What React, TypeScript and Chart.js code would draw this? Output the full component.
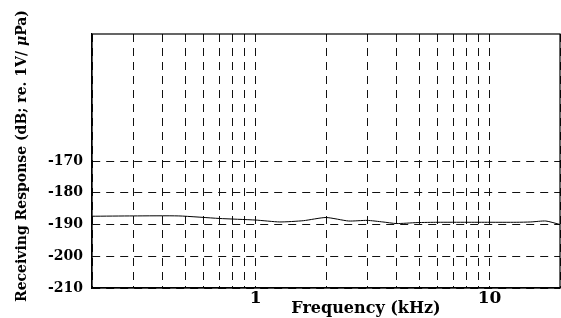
import React, { useEffect, useRef } from "react";
import { Chart, registerables } from "chart.js";

Chart.register(...registerables);

const frequenciesKHz = [0.2, 0.3, 0.47, 0.7, 1.0, 1.27, 1.6, 2.0, 2.5, 3.0, 3.5, 4.0, 4.9, 6.0, 8.0, 10.0, 13.0, 15.0, 17.4, 20.0];
const responseDb = [-187.4, -187.3, -187.3, -188.1, -188.6, -189.2, -188.8, -187.8, -188.9, -188.7, -189.2, -189.7, -189.4, -189.3, -189.3, -189.3, -189.3, -189.2, -188.9, -190.0];

const xTickValues = [0.2, 0.3, 0.4, 0.5, 0.6, 0.7, 0.8, 0.9, 1, 2, 3, 4, 5, 6, 7, 8, 9, 10, 20];
const xLabeledTicks = [1, 10];
const yTickValues = [-210, -200, -190, -180, -170];

const xTitle = "Frequency (kHz)";
const yTitleParts = [
  { text: "Receiving Response (dB; re. 1V/ ", italic: false },
  { text: "μ", italic: true },
  { text: "Pa)", italic: false },
];

const FONT = "'DejaVu Serif', 'Liberation Serif', serif";

export default function App() {
  const ref = useRef<HTMLCanvasElement | null>(null);

  useEffect(() => {
    document.body.style.margin = "0";
    const canvas = ref.current;
    if (!canvas) return;

    const titlesPlugin = {
      id: "titles",
      afterDraw(chart: any) {
        const { ctx, chartArea } = chart;
        ctx.save();
        ctx.strokeStyle = "#000";
        ctx.lineWidth = 1.2;
        ctx.setLineDash([]);
        ctx.strokeRect(chartArea.left, chartArea.top, chartArea.right - chartArea.left, chartArea.bottom - chartArea.top);
        ctx.fillStyle = "#000";
        ctx.font = `bold 16px ${FONT}`;
        ctx.textAlign = "center";
        ctx.textBaseline = "alphabetic";
        ctx.fillText(xTitle, 366, 313);
        ctx.translate(26, 156);
        ctx.rotate(-Math.PI / 2);
        let total = 0;
        const fonts = yTitleParts.map((p) => `${p.italic ? "italic " : ""}bold 14px ${FONT}`);
        yTitleParts.forEach((p, i) => {
          ctx.font = fonts[i];
          total += ctx.measureText(p.text).width;
        });
        let x = -total / 2;
        ctx.textAlign = "left";
        yTitleParts.forEach((p, i) => {
          ctx.font = fonts[i];
          ctx.fillText(p.text, x, 0);
          x += ctx.measureText(p.text).width;
        });
        ctx.restore();
      },
    };

    const chart = new Chart(canvas, {
      type: "line",
      data: {
        datasets: [
          {
            data: frequenciesKHz.map((f, i) => ({ x: f, y: responseDb[i] })),
            borderColor: "#000",
            borderWidth: 1,
            pointRadius: 0,
            tension: 0.2,
            fill: false,
          },
        ],
      },
      options: {
        animation: false,
        responsive: true,
        maintainAspectRatio: false,
        layout: { padding: { top: 34, right: 1, left: 0, bottom: 0 } },
        plugins: { legend: { display: false }, tooltip: { enabled: false } },
        scales: {
          x: {
            type: "logarithmic",
            min: 0.2,
            max: 20,
            afterBuildTicks(scale: any) {
              scale.ticks = xTickValues.map((v) => ({ value: v }));
            },
            afterFit(scale: any) {
              scale.height = 30;
            },
            grid: { color: "#111", lineWidth: 1, drawTicks: false },
            border: { display: true, color: "#000", width: 1.2, dash: [8, 6] },
            ticks: {
              autoSkip: false,
              maxRotation: 0,
              padding: 0,
              color: "#000",
              font: { family: FONT, weight: "bold", size: 17 },
              callback: (v: any) => (xLabeledTicks.includes(Number(v)) ? String(v) : ""),
            },
          },
          y: {
            type: "linear",
            min: -210,
            max: -130,
            afterBuildTicks(scale: any) {
              scale.ticks = yTickValues.map((v) => ({ value: v }));
            },
            afterFit(scale: any) {
              scale.width = 92;
            },
            grid: { color: "#111", lineWidth: 1, drawTicks: false },
            border: { display: true, color: "#000", width: 1.2, dash: [8, 6] },
            ticks: {
              padding: 9,
              color: "#000",
              font: { family: FONT, weight: "bold", size: 14 },
              callback: (v: any) => String(v),
            },
          },
        },
      },
      plugins: [titlesPlugin],
    } as any);

    return () => chart.destroy();
  }, []);

  return (
    <div style={{ position: "fixed", left: 0, top: 0, width: 561, height: 318, background: "#fff" }}>
      <canvas ref={ref} />
    </div>
  );
}
